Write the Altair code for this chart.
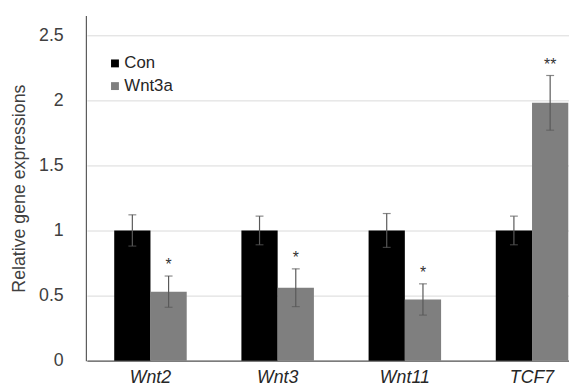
import altair as alt
import pandas as pd

genes = ["Wnt2", "Wnt3", "Wnt11", "TCF7"]
groups = ["Con", "Wnt3a"]
con_vals = [1.0, 1.0, 1.0, 1.0]
con_err = [0.12, 0.11, 0.13, 0.11]
wnt_vals = [0.53, 0.56, 0.47, 1.98]
wnt_err = [0.12, 0.145, 0.12, 0.21]
marks = ["*", "*", "*", "**"]

rows = []
for i, g in enumerate(genes):
    rows.append({"gene": g, "group": "Con", "value": con_vals[i],
                 "lo": con_vals[i] - con_err[i], "hi": con_vals[i] + con_err[i], "sig": ""})
    rows.append({"gene": g, "group": "Wnt3a", "value": wnt_vals[i],
                 "lo": wnt_vals[i] - wnt_err[i], "hi": wnt_vals[i] + wnt_err[i], "sig": marks[i]})
df = pd.DataFrame(rows)

font = "Liberation Sans"
xscale = alt.Scale(domain=genes, range=[1, 517], paddingInner=0.43, paddingOuter=0.215)
xenc = alt.X("gene:N", scale=xscale, sort=genes,
             axis=alt.Axis(title=None, labelAngle=0, labelFontStyle="italic", labelFontSize=18,
                           labelFont=font, labelColor="#262626", ticks=False, labelPadding=8,
                           domainColor="#595959", domainWidth=1.2, grid=False))
xoff = alt.XOffset("group:N", sort=groups, scale=alt.Scale(paddingInner=0, paddingOuter=0))
yscale = alt.Scale(domain=[0, 2.65], nice=False)

base = alt.Chart(df)

bars = base.mark_bar().encode(
    x=xenc, xOffset=xoff,
    y=alt.Y("value:Q", scale=yscale,
            axis=alt.Axis(title="Relative gene expressions", values=[0, 0.5, 1, 1.5, 2, 2.5],
                          format=".1~f", ticks=False, labelFontSize=18, labelFont=font,
                          labelColor="#404040", labelPadding=23, titleFont=font, titleFontSize=18,
                          titleFontWeight="normal", titleColor="#404040", titlePadding=10,
                          gridColor="#d9d9d9", domainColor="#595959", domainWidth=1.2)),
    color=alt.Color("group:N", sort=groups,
                    scale=alt.Scale(domain=groups, range=["#000000", "#7f7f7f"]),
                    legend=alt.Legend(title=None, orient="none", legendX=21, legendY=40,
                                      symbolType="square", symbolSize=64, symbolStrokeWidth=0,
                                      labelFont=font, labelFontSize=17, labelColor="#262626",
                                      rowPadding=5, labelOffset=1)),
)

rules = base.mark_rule(color="#595959", strokeWidth=1.2).encode(
    x=alt.X("gene:N", scale=xscale, sort=genes), xOffset=xoff,
    y=alt.Y("lo:Q", scale=yscale), y2="hi:Q")

caps_hi = base.mark_tick(color="#595959", thickness=1.2, size=8).encode(
    x=alt.X("gene:N", scale=xscale, sort=genes), xOffset=xoff, y=alt.Y("hi:Q", scale=yscale))
caps_lo = base.mark_tick(color="#595959", thickness=1.2, size=8).encode(
    x=alt.X("gene:N", scale=xscale, sort=genes), xOffset=xoff, y=alt.Y("lo:Q", scale=yscale))

stars = base.mark_text(color="#333333", fontSize=16, font=font, dy=-11).encode(
    x=alt.X("gene:N", scale=xscale, sort=genes), xOffset=xoff,
    y=alt.Y("hi:Q", scale=yscale), text="sig:N")

chart = alt.layer(bars, rules, caps_hi, caps_lo, stars).properties(
    width=490, height=350,
    autosize=alt.AutoSizeParams(type="none"),
    padding={"left": 79, "top": 5, "right": 0, "bottom": 24},
).configure_view(stroke=None)

chart.save("out.html", embed_options={"renderer": "svg", "actions": False})
